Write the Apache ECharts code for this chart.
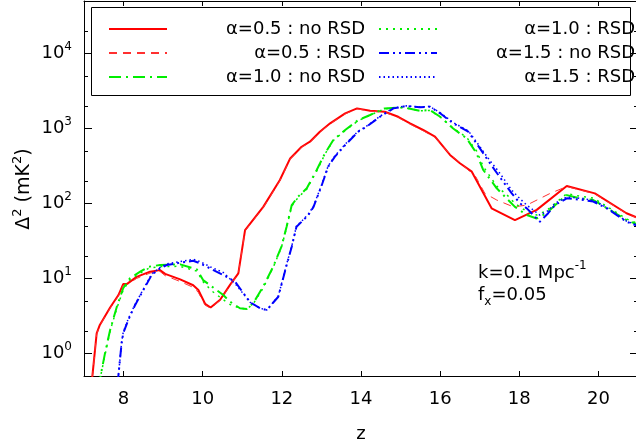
<!DOCTYPE html>
<html>
<head>
<meta charset="utf-8">
<script src="https://cdn.jsdelivr.net/npm/echarts@6/dist/echarts.min.js"></script>
<style>
html,body{margin:0;padding:0;background:#fff;}
#chart{width:636px;height:444px;}
</style>
</head>
<body>
<div id="chart"></div>
<script>
// ---- data ----
const seriesNames = ['α=0.5 : no RSD', 'α=0.5 : RSD', 'α=1.0 : no RSD', 'α=1.0 : RSD', 'α=1.5 : no RSD', 'α=1.5 : RSD'];

const z05n = [7.17, 7.32, 7.40, 7.66, 7.87, 7.99, 8.08, 8.33, 8.67, 8.92, 9.05, 9.43, 9.76, 9.89, 10.06, 10.20, 10.44, 10.69, 10.90, 11.07, 11.53, 11.95, 12.21, 12.50, 12.71, 12.96, 13.22, 13.60, 13.90, 14.23, 14.60, 14.94, 15.24, 15.57, 15.87, 16.25, 16.50, 16.80, 17.30, 17.89, 18.44, 19.20, 19.91, 20.71, 21.0];
const v05n = [0.3, 1.85, 2.4, 4.1, 6.0, 8.4, 8.4, 10.5, 12.3, 12.9, 11.5, 9.7, 8.1, 7.0, 4.6, 4.1, 5.2, 8.2, 11.7, 44, 90, 205, 398, 570, 665, 904, 1170, 1590, 1850, 1720, 1670, 1430, 1170, 953, 776, 443, 343, 265, 86, 60, 82, 171, 136, 74, 64];

const z05r = [7.17, 7.32, 7.40, 7.66, 7.87, 7.99, 8.08, 8.33, 8.67, 8.92, 9.05, 9.43, 9.76, 9.89, 10.06, 10.20, 10.44, 10.69, 10.90, 11.07, 11.53, 11.95, 12.21, 12.50, 12.71, 12.96, 13.22, 13.60, 13.90, 14.23, 14.60, 14.94, 15.24, 15.57, 15.87, 16.25, 16.50, 16.90, 17.13, 17.43, 17.85, 18.19, 18.78, 19.20, 19.91, 20.71, 21.0];
const v05r = [0.3, 1.8, 2.35, 4.0, 5.8, 8.1, 8.2, 10.0, 11.8, 12.4, 10.9, 9.1, 7.6, 6.5, 4.4, 4.0, 5.1, 8.0, 11.5, 43, 88, 200, 390, 560, 650, 890, 1150, 1560, 1820, 1700, 1640, 1400, 1140, 930, 760, 450, 350, 227, 136, 111, 90, 95, 136, 168, 134, 73, 63];

const z10 = [7.36, 7.53, 7.66, 7.83, 7.99, 8.16, 8.42, 8.63, 8.92, 9.43, 9.85, 10.01, 10.23, 10.52, 10.69, 10.94, 11.11, 11.28, 11.53, 11.78, 11.99, 12.12, 12.25, 12.41, 12.63, 12.88, 13.09, 13.30, 13.60, 13.93, 14.23, 14.60, 15.07, 15.49, 15.74, 16.00, 16.33, 16.67, 16.92, 17.09, 17.43, 17.72, 17.89, 18.19, 18.44, 18.69, 18.95, 19.20, 19.53, 19.87, 20.29, 20.71, 21.0];
const v10n = [0.35, 1.0, 2.05, 4.2, 7.4, 10, 12.3, 14.3, 15.1, 15.4, 13.2, 9.5, 7.8, 6.0, 4.9, 4.0, 3.9, 4.7, 7.8, 14.3, 26.5, 49, 95, 123, 159, 279, 465, 700, 953, 1290, 1510, 1850, 1910, 1720, 1760, 1430, 998, 736, 466, 279, 159, 111, 90, 70, 63, 74, 100, 129, 117, 111, 82, 60, 52];
const v10r = [0.35, 0.95, 2.0, 4.0, 7.0, 9.6, 11.8, 13.6, 14.4, 14.5, 12.5, 9.0, 6.8, 5.2, 4.5, 4.0, 3.9, 4.6, 7.5, 14.0, 26, 48, 92, 120, 155, 270, 455, 690, 940, 1270, 1500, 1830, 1900, 1720, 1740, 1420, 1010, 760, 500, 310, 170, 125, 100, 78, 70, 80, 105, 135, 125, 118, 86, 62, 54];

const z15 = [7.85, 7.95, 7.99, 8.12, 8.29, 8.50, 8.71, 8.92, 9.09, 9.43, 9.76, 9.93, 10.20, 10.52, 10.82, 11.20, 11.45, 11.62, 11.91, 12.12, 12.25, 12.37, 12.50, 12.67, 12.80, 13.01, 13.17, 13.34, 13.60, 13.93, 14.14, 14.48, 14.82, 15.15, 15.49, 15.74, 16.00, 16.33, 16.71, 16.92, 17.26, 17.47, 17.81, 18.02, 18.19, 18.52, 18.73, 18.90, 19.20, 19.62, 19.87, 20.21, 20.71, 21.0];
const v15n = [0.4, 1.36, 1.85, 2.8, 4.4, 7.0, 11.1, 13.6, 15.1, 16.2, 17.2, 15.9, 13.5, 11.1, 9.0, 4.8, 4.0, 3.8, 5.7, 15, 26.5, 49, 57, 70, 90, 176, 309, 420, 601, 904, 1054, 1430, 1850, 1990, 1910, 1950, 1590, 1170, 904, 631, 343, 239, 136, 100, 86, 57, 74, 95, 117, 111, 106, 86, 57, 50];
const v15r = [0.4, 1.4, 1.9, 2.9, 4.5, 7.2, 11.4, 14.0, 15.6, 16.8, 18.0, 16.8, 14.2, 12.0, 8.5, 4.8, 4.0, 3.8, 5.8, 15.5, 27, 50, 58, 72, 92, 180, 315, 430, 615, 920, 1070, 1450, 1880, 2000, 1930, 1960, 1620, 1200, 930, 660, 370, 270, 150, 115, 95, 70, 80, 100, 122, 116, 110, 88, 58, 51];

const xTicks = [8, 10, 12, 14, 16, 18, 20];
const yMajor = [1, 10, 100, 1000, 10000];
const yMinor = [2, 5, 20, 50, 200, 500, 2000, 5000, 20000, 50000];

// ---- chart ----
const FONT = '"DejaVu Sans", sans-serif';
const pair = (zs, vs) => zs.map((z, i) => [z, vs[i]]);
function richSet(base, small, lh) {
  return {
    b: {fontSize: base, fontFamily: FONT, color: '#000', lineHeight: lh},
    s: {fontSize: small, fontFamily: FONT, color: '#000', lineHeight: small + 2, verticalAlign: 'top'},
    u: {fontSize: small, fontFamily: FONT, color: '#000', lineHeight: small + 2, verticalAlign: 'bottom'}
  };
}
const supRich = richSet(18, 12, 26);
const expOf = v => Math.round(Math.log10(v));

const axisLine = {show: true, onZero: false, lineStyle: {color: '#000', width: 1}};

const xBase = {
  type: 'value', min: 7, max: 21,
  splitLine: {show: false},
  axisLine: axisLine
};
const yBase = {
  type: 'log', logBase: 10, min: 0.5, max: 50000,
  splitLine: {show: false},
  minorTick: {show: false}
};

function mk(name, zs, vs, color, width, type) {
  return {
    name: name, type: 'line', xAxisIndex: 0, yAxisIndex: 0,
    data: pair(zs, vs), symbol: 'none', clip: true, smooth: false,
    lineStyle: {color: color, width: width, type: type},
    itemStyle: {color: color},
    emphasis: {disabled: true}
  };
}

const legendBase = {
  orient: 'vertical', top: 15, itemWidth: 58, itemHeight: 14, itemGap: 6,
  formatter: n => '{t|' + n + '}',
  itemStyle: {opacity: 0},
  textStyle: {color: '#000', rich: {t: {width: 193, align: 'right', fontSize: 18, fontFamily: FONT, color: '#000', lineHeight: 20}}},
  selectedMode: false
};

const option = {
  animation: false,
  backgroundColor: '#fff',
  grid: {left: 84, top: 1, right: -2, bottom: 68, containLabel: false, outerBoundsMode: 'none'},
  xAxis: [
    Object.assign({}, xBase, {
      position: 'bottom',
      name: 'z', nameLocation: 'middle', nameGap: 49,
      nameTextStyle: {fontSize: 18, fontFamily: FONT, color: '#000'},
      axisTick: {show: true, inside: true, length: 5, customValues: xTicks, lineStyle: {color: '#000'}},
      axisLabel: {show: true, margin: 14, fontSize: 18, fontFamily: FONT, color: '#000', customValues: xTicks}
    }),
    Object.assign({}, xBase, {
      position: 'top',
      axisTick: {show: true, inside: true, length: 5, customValues: xTicks, lineStyle: {color: '#000'}},
      axisLabel: {show: false}
    })
  ],
  yAxis: [
    Object.assign({}, yBase, {
      position: 'left',
      axisLine: axisLine,
      axisTick: {show: true, inside: true, length: 8, customValues: yMajor, lineStyle: {color: '#000'}},
      axisLabel: {show: true, margin: 12, customValues: yMajor,
        formatter: v => '{b|10}{s|' + expOf(v) + '}', rich: supRich}
    }),
    Object.assign({}, yBase, {
      position: 'left',
      axisLine: {show: false},
      axisTick: {show: true, inside: true, length: 4, customValues: yMinor, lineStyle: {color: '#000'}},
      axisLabel: {show: false}
    }),
    Object.assign({}, yBase, {
      position: 'right',
      axisLine: axisLine,
      axisTick: {show: true, inside: true, length: 8, customValues: yMajor, lineStyle: {color: '#000'}},
      axisLabel: {show: false}
    }),
    Object.assign({}, yBase, {
      position: 'right',
      axisLine: {show: false},
      axisTick: {show: true, inside: true, length: 4, customValues: yMinor, lineStyle: {color: '#000'}},
      axisLabel: {show: false}
    })
  ],
  legend: [
    Object.assign({}, legendBase, {left: 103, data: seriesNames.slice(0, 3)}),
    Object.assign({}, legendBase, {left: 373, data: seriesNames.slice(3, 6)})
  ],
  graphic: [
    {type: 'rect', left: 91, top: 7, shape: {width: 539, height: 88}, style: {fill: 'transparent', stroke: '#000', lineWidth: 1}, z: 10},
    {type: 'text', x: 24, y: 189, rotation: Math.PI / 2,
      style: {text: '{b|Δ}{s|2}{b| (mK}{s|2}{b|)}', rich: richSet(19, 13, 26), align: 'center', verticalAlign: 'middle'}},
    {type: 'text', left: 478, top: 260, style: {text: '{b|k=0.1 Mpc}{s|-1}', rich: supRich}},
    {type: 'text', left: 478, top: 286, style: {text: '{b|f}{u|x}{b|=0.05}', rich: supRich}}
  ],
  series: [
    mk(seriesNames[0], z05n, v05n, '#ff0000', 2, 'solid'),
    mk(seriesNames[1], z05r, v05r, '#ff3030', 1, [8, 6]),
    mk(seriesNames[2], z10, v10n, '#00ee00', 2, [12, 5, 2, 5]),
    mk(seriesNames[3], z10, v10r, '#00ee00', 1.5, [2, 5]),
    mk(seriesNames[4], z15, v15n, '#0000ff', 2, [10, 4, 2, 4, 2, 4]),
    mk(seriesNames[5], z15, v15r, '#0000ff', 1.5, [1.5, 3])
  ]
};

const chart = echarts.init(document.getElementById('chart'), null, {renderer: 'canvas'});
chart.setOption(option);
</script>
</body>
</html>
